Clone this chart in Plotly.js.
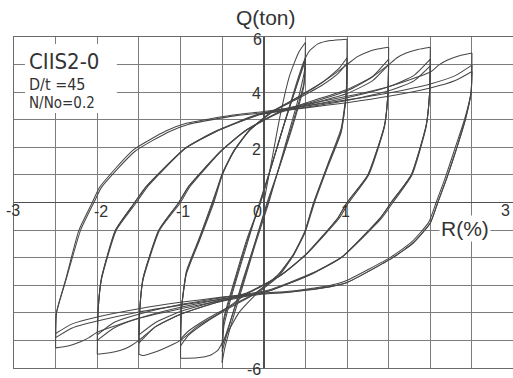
<!DOCTYPE html>
<html>
<head>
<meta charset="utf-8">
<script src="https://cdn.plot.ly/plotly-3.0.1.min.js"></script>
<style>html,body{margin:0;padding:0;background:#fff;}#chart{width:513px;height:378px;}</style>
</head>
<body>
<div id="chart"></div>
<script>
// Initial loading 0 -> +0.5 %
const R_init = [0, 0.1, 0.2, 0.31, 0.42, 0.5];
const Q_init = [0, 1.6, 3.2, 4.6, 5.45, 5.8];

// Amplitude 0.5 %
const R_A05_up = [
  [-0.5,-0.48,-0.35,-0.2,-0.05,0.1,0.25,0.38,0.5],
  [-0.5,-0.48,-0.35,-0.2,-0.04,0.1,0.25,0.38,0.5]];
const Q_A05_up = [
  [-5.8,-4.5,-3.0,-1.5,0,1.4,2.9,4.1,5.25],
  [-5.4,-4.3,-2.9,-1.4,0,1.4,2.9,4.1,5.15]];
const R_A05_dn = [
  [0.5,0.49,0.4,0.25,0.06,-0.1,-0.25,-0.38,-0.47,-0.5],
  [0.5,0.48,0.35,0.2,0.05,-0.1,-0.25,-0.38,-0.5],
  [0.5,0.48,0.35,0.2,0.04,-0.1,-0.25,-0.38,-0.5]];
const Q_A05_dn = [
  [5.8,4.8,3.6,2.0,0,-1.5,-3.0,-4.3,-5.3,-5.8],
  [5.25,4.3,2.9,1.4,0,-1.4,-2.9,-4.1,-5.4],
  [5.15,4.2,2.8,1.4,0,-1.4,-2.8,-4.1,-5.2]];

// Amplitude 1.0 %
const R_A10_up = [
  [-0.5,-0.48,-0.35,-0.2,-0.04,0.1,0.25,0.38,0.48,0.55,0.65,0.8,1.0],
  [-1.0,-0.99,-0.93,-0.77,-0.6,-0.49,-0.35,-0.17,0.1,0.4,0.7,0.9,1.0],
  [-1.0,-0.99,-0.93,-0.77,-0.61,-0.5,-0.36,-0.18,0.1,0.4,0.7,0.9,1.0]];
const Q_A10_up = [
  [-5.2,-4.2,-2.8,-1.3,0,1.4,2.9,4.2,5.1,5.5,5.75,5.87,5.92],
  [-5.65,-3.9,-2.6,-1.36,0,1.07,1.9,2.63,3.3,3.8,4.35,4.85,5.25],
  [-5.2,-3.9,-2.55,-1.3,0,1.05,1.88,2.6,3.28,3.75,4.25,4.7,5.05]];
const R_A10_dn = [
  [1.0,0.99,0.93,0.77,0.6,0.49,0.35,0.17,-0.1,-0.3,-0.45,-0.55,-0.65,-0.8,-1.0],
  [1.0,0.99,0.93,0.77,0.6,0.49,0.35,0.17,-0.1,-0.4,-0.7,-0.9,-1.0],
  [1.0,0.99,0.93,0.77,0.61,0.5,0.36,0.18,-0.1,-0.4,-0.7,-0.9,-1.0]];
const Q_A10_dn = [
  [5.92,4.0,2.7,1.4,0,-1.1,-1.95,-2.7,-3.35,-4.0,-4.8,-5.35,-5.55,-5.63,-5.65],
  [5.25,3.9,2.6,1.36,0,-1.07,-1.9,-2.63,-3.3,-3.8,-4.35,-4.8,-5.2],
  [5.05,3.9,2.55,1.3,0,-1.05,-1.88,-2.6,-3.28,-3.75,-4.25,-4.65,-4.95]];

// Amplitude 1.5 %
const R_A15_up = [
  [-1.0,-0.99,-0.93,-0.77,-0.62,-0.5,-0.36,-0.18,0.1,0.4,0.7,1.0,1.12,1.24,1.38,1.5],
  [-1.5,-1.49,-1.45,-1.25,-1.0,-0.89,-0.5,-0.2,0.2,0.6,1.0,1.3,1.5],
  [-1.5,-1.49,-1.45,-1.26,-1.02,-0.91,-0.52,-0.22,0.2,0.6,1.0,1.3,1.5]];
const Q_A15_up = [
  [-4.95,-3.9,-2.5,-1.25,0,1.0,1.85,2.58,3.28,3.8,4.35,5.0,5.28,5.45,5.57,5.63],
  [-5.5,-3.9,-2.8,-1.0,0,0.56,1.9,2.65,3.3,3.65,4.05,4.55,5.2],
  [-5.1,-3.9,-2.75,-1.0,0,0.55,1.85,2.6,3.27,3.6,3.95,4.4,5.0]];
const R_A15_dn = [
  [1.5,1.49,1.45,1.25,1.0,0.89,0.5,0.2,-0.2,-0.5,-0.8,-1.0,-1.24,-1.45,-1.5],
  [1.5,1.49,1.45,1.25,1.0,0.89,0.5,0.2,-0.2,-0.6,-1.0,-1.3,-1.5],
  [1.5,1.49,1.45,1.26,1.02,0.91,0.52,0.22,-0.2,-0.6,-1.0,-1.3,-1.5]];
const Q_A15_dn = [
  [5.63,3.9,2.8,1.0,0,-0.56,-1.9,-2.65,-3.3,-3.95,-4.5,-5.0,-5.35,-5.55,-5.5],
  [5.2,3.9,2.8,1.0,0,-0.56,-1.9,-2.65,-3.3,-3.65,-4.05,-4.5,-5.1],
  [5.0,3.9,2.75,1.0,0,-0.55,-1.85,-2.6,-3.27,-3.6,-3.95,-4.35,-4.8]];

// Amplitude 2.0 %
const R_A20_up = [
  [-1.5,-1.49,-1.45,-1.26,-1.02,-0.91,-0.52,-0.22,0.2,0.6,1.0,1.3,1.5,1.6,1.71,1.85,2.0],
  [-2.0,-1.99,-1.95,-1.77,-1.53,-1.4,-0.93,-0.57,-0.05,0.5,1.0,1.5,1.8,2.0],
  [-2.0,-1.99,-1.95,-1.78,-1.55,-1.42,-0.95,-0.59,-0.05,0.5,1.0,1.5,1.8,2.0]];
const Q_A20_up = [
  [-4.8,-3.9,-2.75,-1.0,0,0.55,1.85,2.6,3.3,3.7,4.1,4.55,5.0,5.25,5.42,5.55,5.63],
  [-5.5,-3.9,-2.8,-1.0,0,0.56,2.0,2.6,3.22,3.5,3.8,4.2,4.6,5.2],
  [-5.0,-3.9,-2.75,-1.0,0,0.55,1.95,2.55,3.18,3.45,3.7,4.05,4.4,4.95]];
const R_A20_dn = [
  [2.0,1.99,1.95,1.77,1.53,1.4,0.93,0.57,0.05,-0.6,-1.0,-1.3,-1.5,-1.6,-1.71,-1.85,-2.0],
  [2.0,1.99,1.95,1.77,1.53,1.4,0.93,0.57,0.05,-0.5,-1.0,-1.5,-1.8,-2.0],
  [2.0,1.99,1.95,1.78,1.55,1.42,0.95,0.59,0.05,-0.5,-1.0,-1.5,-1.8,-2.0]];
const Q_A20_dn = [
  [5.63,3.9,2.8,1.0,0,-0.56,-2.0,-2.6,-3.22,-3.65,-4.05,-4.5,-5.0,-5.2,-5.35,-5.45,-5.5],
  [5.2,3.9,2.8,1.0,0,-0.56,-2.0,-2.6,-3.22,-3.5,-3.8,-4.2,-4.55,-5.0],
  [4.95,3.9,2.75,1.0,0,-0.55,-1.95,-2.55,-3.18,-3.45,-3.7,-4.05,-4.35,-4.8]];

// Amplitude 2.5 %
const R_A25_up = [
  [-2.0,-1.99,-1.95,-1.78,-1.55,-1.42,-0.95,-0.59,-0.05,0.5,1.0,1.5,2.0,2.1,2.2,2.35,2.5],
  [-2.5,-2.49,-2.38,-2.22,-2.06,-1.97,-1.57,-1.17,-0.93,-0.37,0,0.5,1.0,1.5,2.0,2.3,2.5],
  [-2.5,-2.49,-2.37,-2.2,-2.04,-1.95,-1.55,-1.15,-0.91,-0.35,0,0.5,1.0,1.5,2.0,2.3,2.5]];
const Q_A25_up = [
  [-4.8,-3.9,-2.75,-1.0,0,0.55,1.95,2.55,3.2,3.55,3.85,4.2,4.73,4.98,5.16,5.32,5.42],
  [-5.27,-4.0,-2.8,-1.0,0,0.56,1.9,2.6,2.87,3.17,3.3,3.5,3.72,3.97,4.3,4.6,4.98],
  [-4.9,-4.0,-2.75,-1.0,0,0.55,1.85,2.55,2.83,3.14,3.25,3.43,3.62,3.85,4.15,4.42,4.75]];
const R_A25_dn = [
  [2.5,2.49,2.42,2.32,2.2,2.09,2.0,1.8,1.55,1.0,0.8,0.3,-0.05,-0.5,-1.0,-1.5,-2.0,-2.1,-2.2,-2.35,-2.5],
  [2.5,2.49,2.42,2.32,2.2,2.09,2.0,1.8,1.55,1.0,0.8,0.3,0,-0.5,-1.0,-1.5,-2.0,-2.3,-2.5],
  [2.5,2.49,2.41,2.3,2.18,2.07,1.98,1.78,1.53,0.98,0.78,0.3,0,-0.5,-1.0,-1.5,-2.0,-2.3,-2.5]];
const Q_A25_dn = [
  [5.42,4.0,3.0,2.0,0.9,0,-0.74,-1.45,-2.0,-2.9,-3.05,-3.25,-3.3,-3.55,-3.85,-4.2,-4.7,-4.9,-5.05,-5.2,-5.27],
  [4.98,4.0,3.0,2.0,0.9,0,-0.74,-1.45,-2.0,-2.9,-3.05,-3.25,-3.32,-3.5,-3.72,-3.97,-4.3,-4.55,-4.9],
  [4.75,4.0,3.0,2.0,0.9,0,-0.72,-1.42,-1.97,-2.85,-3.02,-3.22,-3.28,-3.43,-3.62,-3.85,-4.15,-4.4,-4.75]];

// Tick labels and texts
const xTickText = ['-3','-2','-1','0','1','3'];
const yTickText = ['6','4','2','-6'];
const boxLines = ['CIIS2-0','D/t =45','N/No=0.2'];

const lineStyle = {color:'#474747', width:1.05, shape:'spline', smoothing:0.5};
const traces = [];
function addBranches(Rs, Qs){
  for (let i=0;i<Rs.length;i++){
    traces.push({x:Rs[i], y:Qs[i], type:'scatter', mode:'lines', line:lineStyle, hoverinfo:'skip', showlegend:false});
  }
}
addBranches([R_init],[Q_init]);
addBranches(R_A05_up,Q_A05_up); addBranches(R_A05_dn,Q_A05_dn);
addBranches(R_A10_up,Q_A10_up); addBranches(R_A10_dn,Q_A10_dn);
addBranches(R_A15_up,Q_A15_up); addBranches(R_A15_dn,Q_A15_dn);
addBranches(R_A20_up,Q_A20_up); addBranches(R_A20_dn,Q_A20_dn);
addBranches(R_A25_up,Q_A25_up); addBranches(R_A25_dn,Q_A25_dn);

const tickFont = {family:'Liberation Sans, Arial, sans-serif', size:16, color:'#333'};
// label centres in paper fractions of the plot area
const xTickPos = [[-0.002,0.477],[0.1743,0.4743],[0.3387,0.4713],[0.487,0.4743],[0.6653,0.4743],[0.984,0.4773]];
const yTickPos = [[0.487,0.991],[0.485,0.8278],[0.485,0.6616],[0.481,-0.006]];
const annotations = [];
xTickText.forEach((t,i)=>annotations.push({x:xTickPos[i][0], y:xTickPos[i][1], xref:'paper', yref:'paper', text:t, showarrow:false, font:tickFont, xanchor:'center', yanchor:'middle'}));
yTickText.forEach((t,i)=>annotations.push({x:yTickPos[i][0], y:yTickPos[i][1], xref:'paper', yref:'paper', text:t, showarrow:false, font:tickFont, xanchor:'center', yanchor:'middle'}));
annotations.push({x:0.505, y:1.058, xref:'paper', yref:'paper', text:'Q(ton)', showarrow:false, font:{family:'Liberation Sans, Arial, sans-serif', size:21, color:'#333'}, xanchor:'center', yanchor:'middle', borderpad:0});
annotations.push({x:0.9038, y:0.42, xref:'paper', yref:'paper', text:'R(%)', showarrow:false, font:{family:'Liberation Sans, Arial, sans-serif', size:21, color:'#333'}, bgcolor:'#fff', xanchor:'center', yanchor:'middle'});
const boxFont = {family:'DejaVu Sans Condensed, Liberation Sans Narrow, DejaVu Sans, sans-serif', color:'#333'};
const boxPos = [[0.028,0.9245,22],[0.028,0.855,16],[0.028,0.7995,15]];
boxLines.forEach((t,i)=>annotations.push({x:boxPos[i][0], y:boxPos[i][1], xref:'paper', yref:'paper', text:t, showarrow:false, font:Object.assign({size:boxPos[i][2]}, boxFont), xanchor:'left', yanchor:'middle', borderpad:0}));

const layout = {
  width:513, height:378,
  margin:{l:14, r:0, t:37, b:10},
  paper_bgcolor:'#fff', plot_bgcolor:'#fff',
  showlegend:false, hovermode:false,
  xaxis:{range:[-3,2.993], dtick:0.5, tick0:0, showticklabels:false, ticks:'',
    showgrid:true, gridcolor:'#7c7c7c', gridwidth:1,
    zeroline:true, zerolinecolor:'#505050', zerolinewidth:1.5,
    showline:true, linecolor:'#6a6a6a', linewidth:1, mirror:true},
  yaxis:{range:[-6,6], dtick:1, tick0:0, showticklabels:false, ticks:'',
    showgrid:true, gridcolor:'#7c7c7c', gridwidth:1,
    zeroline:true, zerolinecolor:'#505050', zerolinewidth:1.5,
    showline:true, linecolor:'#6a6a6a', linewidth:1, mirror:true},
  shapes:[{type:'rect', xref:'x', yref:'y', x0:-2.868, x1:-1.765, y0:3.245, y1:5.747, fillcolor:'#fff', line:{width:0}, layer:'above'}],
  annotations:annotations
};
Plotly.newPlot('chart', traces, layout, {staticPlot:true, displayModeBar:false});
</script>
</body>
</html>
